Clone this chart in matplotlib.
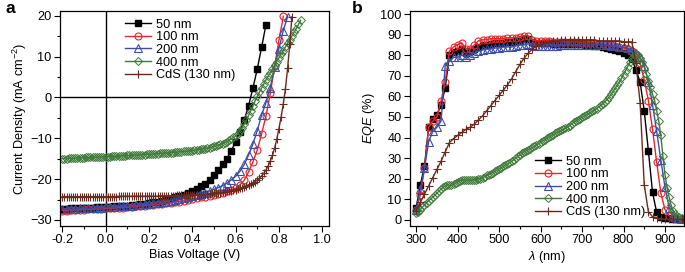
import matplotlib
matplotlib.use("Agg")
import matplotlib.pyplot as plt
import numpy as np
from matplotlib.ticker import MultipleLocator

plt.rcParams['font.family'] = ['Liberation Sans', 'DejaVu Sans']
plt.rcParams['font.size'] = 9.2
plt.rcParams['mathtext.fontset'] = 'custom'
plt.rcParams['mathtext.rm'] = 'Liberation Sans'
plt.rcParams['mathtext.it'] = 'Liberation Sans:italic'

# ---- panel a: J-V curves ----
v_50 = np.round(np.arange(-0.20, 0.741, 0.02), 2)
j_50 = [-27.3, -27.3, -27.2, -27.2, -27.1, -27.1, -27.0, -27.0, -26.9, -26.9,
        -26.8, -26.8, -26.7, -26.7, -26.6, -26.5, -26.4, -26.3, -26.2, -26.1,
        -25.9, -25.7, -25.5, -25.3, -25.0, -24.8, -24.5, -24.2, -23.9, -23.5,
        -23.0, -22.5, -21.8, -21.1, -20.2, -19.0, -17.7, -16.4, -15.0, -13.1,
        -10.8, -8.4, -5.5, -2.0, 2.3, 7.0, 12.3, 17.8]

v_100 = np.round(np.arange(-0.20, 0.821, 0.02), 2)
j_100 = [-27.7, -27.7, -27.6, -27.6, -27.5, -27.5, -27.4, -27.4, -27.3, -27.3,
         -27.2, -27.2, -27.1, -27.0, -27.0, -26.9, -26.8, -26.7, -26.6, -26.5,
         -26.4, -26.3, -26.2, -26.1, -25.9, -25.8, -25.6, -25.5, -25.3, -25.1,
         -24.9, -24.7, -24.5, -24.3, -24.1, -23.9, -23.6, -23.3, -23.0, -22.7,
         -22.3, -21.4, -20.3, -18.2, -15.8, -12.9, -8.9, -4.6, 1.0, 7.6,
         14.0, 19.9]

v_200 = np.round(np.arange(-0.20, 0.841, 0.02), 2)
j_200 = [-27.4, -27.4, -27.3, -27.3, -27.2, -27.2, -27.1, -27.1, -27.0, -27.0,
         -26.9, -26.9, -26.8, -26.7, -26.7, -26.6, -26.5, -26.4, -26.3, -26.2,
         -26.1, -25.9, -25.8, -25.6, -25.5, -25.3, -25.1, -24.9, -24.7, -24.5,
         -24.2, -23.9, -23.6, -23.3, -22.9, -22.5, -22.1, -21.6, -21.0, -20.2,
         -19.3, -18.1, -16.4, -14.1, -11.4, -8.1, -4.3, -1.3, 2.4, 7.4,
         12.0, 16.4, 19.8]

v_400 = np.round(np.arange(-0.20, 0.901, 0.01), 2)
j_400 = [-15.0, -15.0, -15.0, -14.9, -14.9, -14.9, -14.9, -14.8, -14.8, -14.8,
         -14.8, -14.7, -14.7, -14.7, -14.7, -14.6, -14.6, -14.6, -14.6, -14.5,
         -14.5, -14.5, -14.5, -14.4, -14.4, -14.4, -14.4, -14.3, -14.3, -14.3,
         -14.2, -14.2, -14.2, -14.1, -14.1, -14.1, -14.0, -14.0, -14.0, -13.9,
         -13.9, -13.9, -13.8, -13.8, -13.8, -13.7, -13.7, -13.6, -13.6, -13.6,
         -13.5, -13.5, -13.4, -13.4, -13.3, -13.3, -13.2, -13.2, -13.1, -13.1,
         -13.0, -12.9, -12.9, -12.8, -12.7, -12.6, -12.5, -12.4, -12.3, -12.2,
         -12.0, -11.9, -11.7, -11.5, -11.3, -11.1, -10.8, -10.5, -10.1, -9.8,
         -9.5, -8.9, -8.2, -7.4, -6.5, -5.5, -4.4, -3.2, -2.0, -0.8,
         0.3, 1.3, 2.3, 3.3, 4.3, 5.2, 6.1, 7.0, 7.9, 8.8,
         9.7, 10.6, 11.5, 12.4, 13.3, 14.2, 15.1, 16.0, 16.9, 17.9,
         18.9]

v_cds = np.round(np.arange(-0.20, 0.861, 0.01), 2)
j_cds = [-24.3, -24.3, -24.3, -24.3, -24.3, -24.3, -24.3, -24.3, -24.3, -24.3,
         -24.3, -24.3, -24.3, -24.3, -24.3, -24.3, -24.3, -24.3, -24.3, -24.3,
         -24.3, -24.3, -24.3, -24.3, -24.3, -24.3, -24.2, -24.2, -24.2, -24.2,
         -24.2, -24.2, -24.2, -24.2, -24.2, -24.2, -24.2, -24.2, -24.2, -24.2,
         -24.2, -24.2, -24.2, -24.2, -24.2, -24.1, -24.1, -24.1, -24.1, -24.1,
         -24.1, -24.1, -24.1, -24.0, -24.0, -24.0, -24.0, -24.0, -23.9, -23.9,
         -23.9, -23.9, -23.8, -23.8, -23.8, -23.7, -23.7, -23.6, -23.6, -23.5,
         -23.5, -23.4, -23.4, -23.3, -23.2, -23.1, -23.0, -22.9, -22.8, -22.7,
         -22.6, -22.4, -22.3, -22.1, -21.9, -21.7, -21.5, -21.2, -20.9, -20.6,
         -20.2, -19.8, -19.2, -18.6, -17.8, -16.8, -15.6, -14.2, -12.4, -10.2,
         -7.6, -4.8, -1.6, 2.2, 7.2, 13.2, 19.8]

# ---- panel b: EQE spectra ----
wl_10 = np.arange(300, 941, 10)
wl_5 = np.arange(300, 941, 5)
eqe_50 = [6, 17, 26, 45, 49, 51, 56, 64, 80, 81.5,
          82, 83, 81, 82, 83, 84, 85, 85, 85.5, 86,
          86, 86, 86.5, 86.5, 87, 87, 88, 88, 86.5, 86,
          86, 86, 86, 85.5, 85.5, 85.5, 85.5, 85.5, 85.5, 85.5,
          85.5, 85, 85, 84.5, 84.5, 84, 83.5, 83, 82.5, 82,
          81, 80, 78, 73, 67, 53, 33.5, 13.4, 3.6, 1.5,
          1, 0.8, 0.5, 0.5, 0.3]
eqe_100 = [5, 12, 25, 45, 48, 50, 58, 67, 82, 84,
           85, 86, 83, 83, 85, 87, 87.5, 87.5, 88, 88,
           88, 88, 88.5, 88.5, 88.5, 89, 89.5, 89.5, 87.5, 87,
           87, 87, 87, 86.5, 86.5, 86.5, 86.5, 86.5, 86.5, 86.5,
           86, 86, 86, 86, 85.5, 85.5, 85, 85, 84.5, 84,
           83.5, 83, 82, 80, 76, 68, 58, 44, 28, 13,
           5, 2, 1, 0.5, 0.5]
eqe_200 = [5, 15, 25, 38, 43, 45, 48, 75, 77, 79,
           79, 80, 79, 80, 81, 82, 82.5, 83, 83, 83.5,
           83.5, 84, 84, 84, 84.5, 85, 85, 85.5, 85, 84.5,
           84.5, 84.5, 84.5, 84.5, 84.5, 85, 85, 85, 85, 85,
           85, 85, 85, 85, 85, 85, 85, 84.5, 84.5, 84,
           84, 83.5, 82.5, 81, 79, 75, 67, 56, 43, 29,
           16, 6, 2, 1, 0.5]
eqe_400 = [3.5, 4.0, 5.0, 6.2, 7.2, 8.2, 9.3, 10.2, 11.0, 12.0,
           13.0, 14.0, 15.0, 15.8, 16.5, 17.0, 16.8, 16.8, 17.2, 17.8,
           18.5, 19.0, 19.3, 19.4, 19.4, 19.3, 19.3, 19.4, 19.5, 19.6,
           19.8, 20.0, 20.4, 21.0, 21.6, 22.0, 22.5, 23.0, 23.6, 24.2,
           24.8, 25.4, 26.0, 26.6, 27.2, 27.8, 28.4, 29.2, 30.0, 30.8,
           31.6, 32.4, 33.0, 33.6, 34.1, 34.6, 35.2, 35.8, 36.4, 37.0,
           37.6, 38.3, 39.0, 39.6, 40.2, 40.8, 41.4, 42.0, 42.5, 43.0,
           43.5, 44.0, 44.6, 45.2, 45.8, 46.6, 47.4, 48.0, 48.6, 49.2,
           49.8, 50.4, 51.0, 51.6, 52.2, 52.8, 53.4, 54.0, 54.8, 55.6,
           56.4, 57.4, 58.4, 59.6, 61.0, 62.5, 64.0, 65.5, 67.0, 68.8,
           70.5, 72.5, 74.5, 76.5, 78.5, 80.0, 80.5, 80.0, 78.5, 76.5,
           74.0, 71.0, 67.5, 64.5, 61.0, 58.0, 53.0, 48.0, 41.0, 31.0,
           22.0, 15.5, 11.0, 7.0, 4.5, 3.0, 2.0, 1.5, 1.0]
eqe_cds = [4.5, 8.5, 12.5, 16.5, 20.5, 24.5, 28.5, 33, 37.5, 39.5,
           41, 42.5, 44, 45, 46.5, 48.5, 50.5, 53, 55.5, 58,
           60.5, 63, 65.5, 68.5, 72, 75.5, 78.5, 81, 83, 84.5,
           85.5, 86, 86.5, 87, 87, 87.5, 87.5, 87.5, 87.5, 87.5,
           87.5, 87.5, 87.5, 87.5, 87, 87, 87, 87, 87, 87,
           86.5, 86.5, 86.5, 76, 57, 17, 4, 1.5, 1, 0.5,
           0.3, 0.3, 0.2, 0.2, 0.2]

labels = ['50 nm', '100 nm', '200 nm', '400 nm', 'CdS (130 nm)']
colors = ['black', '#e5262a', '#3b4ea6', '#3f7a3a', '#6a2b1f']
styles = [
    dict(marker='s', markersize=4.8, markerfacecolor='black'),
    dict(marker='o', markersize=5, markerfacecolor='none', markeredgewidth=0.8),
    dict(marker='^', markersize=5.2, markerfacecolor='none', markeredgewidth=0.8),
    dict(marker='D', markersize=4.4, markerfacecolor='none', markeredgewidth=0.7),
    dict(marker='+', markersize=5.5, markeredgewidth=0.8),
]

fig = plt.figure(figsize=(6.85, 2.72), dpi=100)
ax1 = fig.add_axes([0.0876, 0.169, 0.3924, 0.7906])
ax2 = fig.add_axes([0.5985, 0.169, 0.3995, 0.7906])

jv = [(v_50, j_50), (v_100, j_100), (v_200, j_200), (v_400, j_400), (v_cds, j_cds)]
eqe = [(wl_10, eqe_50), (wl_10, eqe_100), (wl_10, eqe_200), (wl_5, eqe_400), (wl_10, eqe_cds)]

ax1.axhline(0, color='black', lw=1)
ax1.axvline(0, color='black', lw=1)
for (x, y), lab, c, st in zip(jv, labels, colors, styles):
    ax1.plot(x, y, color=c, lw=1, label=lab, **st)
for (x, y), lab, c, st in zip(eqe, labels, colors, styles):
    ax2.plot(x, y, color=c, lw=1, label=lab, **st)

ax1.set_xlim(-0.21, 1.03)
ax1.set_ylim(-31.5, 21.2)
ax1.xaxis.set_major_locator(MultipleLocator(0.2))
ax1.xaxis.set_minor_locator(MultipleLocator(0.1))
ax1.yaxis.set_major_locator(MultipleLocator(10))
ax1.yaxis.set_minor_locator(MultipleLocator(5))
ax1.xaxis.set_major_formatter(plt.FuncFormatter(lambda v, p: f"{v:.1f}".replace('-0.0', '0.0')))
ax1.set_xlabel('Bias Voltage (V)', labelpad=2)
ax1.set_ylabel('Current Density (mA cm$^{-2}$)', labelpad=1)

ax2.set_xlim(285, 945)
ax2.set_ylim(-3, 101.5)
ax2.xaxis.set_major_locator(MultipleLocator(100))
ax2.xaxis.set_minor_locator(MultipleLocator(50))
ax2.yaxis.set_major_locator(MultipleLocator(10))
ax2.set_xlabel(r'$\lambda$ (nm)', labelpad=2)
ax2.set_ylabel('$EQE$ (%)', labelpad=2)

for ax in (ax1, ax2):
    ax.tick_params(which='major', direction='out', length=4, width=0.8, pad=2)
    ax.tick_params(which='minor', direction='out', length=2.5, width=0.8)
    for s in ax.spines.values():
        s.set_linewidth(0.9)

ax1.legend(loc='upper left', bbox_to_anchor=(0.215, 1.0), frameon=False,
           handlelength=2.0, handletextpad=0.4, labelspacing=0.05, borderaxespad=0.2)
ax2.legend(loc='lower left', bbox_to_anchor=(0.43, 0.0), frameon=False,
           handlelength=2.0, handletextpad=0.4, labelspacing=0.05, borderaxespad=0.2)

fig.text(0.008, 0.995, 'a', fontsize=12.5, fontweight='bold', va='top')
fig.text(0.513, 0.995, 'b', fontsize=12.5, fontweight='bold', va='top')

fig.savefig('out.png', dpi=100)
